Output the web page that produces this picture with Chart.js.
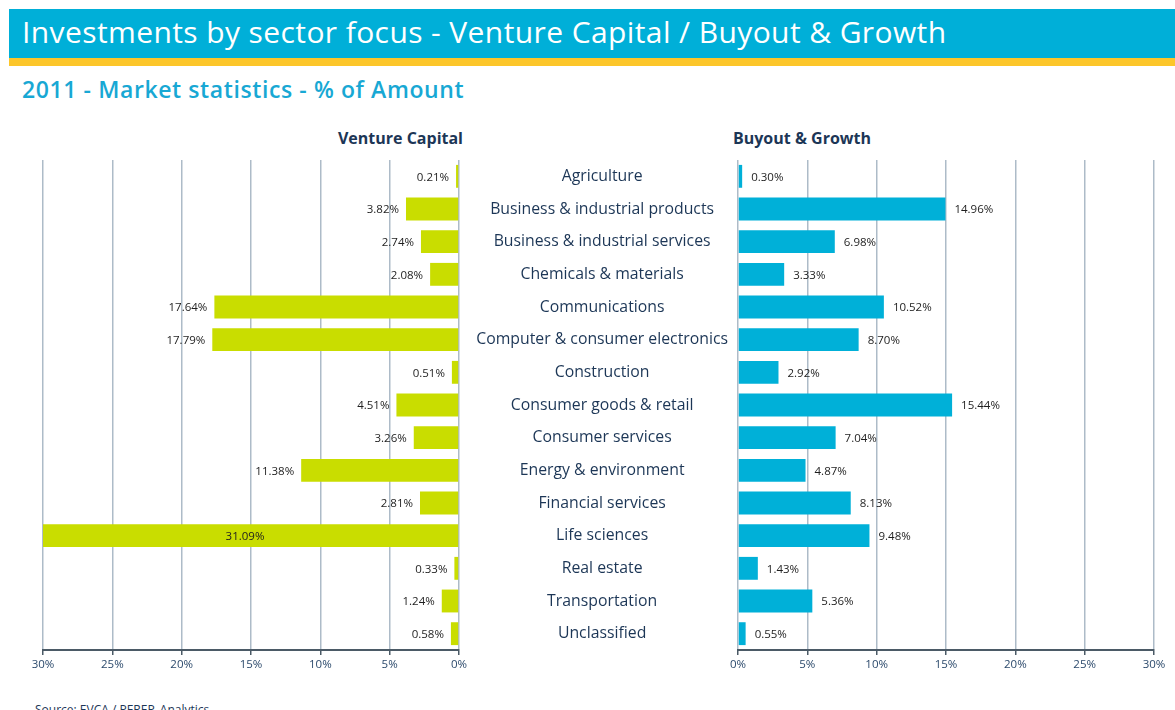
<!DOCTYPE html>
<html>
<head>
<meta charset="utf-8">
<script src="https://cdn.jsdelivr.net/npm/chart.js@4.4.1/dist/chart.umd.min.js"></script>
<style>
  body { margin: 0; background: #fff; width: 1175px; height: 710px; overflow: hidden; position: relative; font-family: "Open Sans", sans-serif; }
  .header { position: absolute; left: 9px; top: 9px; width: 1166px; height: 49px; background: #00afd8; }
  .header span { position: absolute; left: 13px; top: 3px; color: #fff; font-size: 30px; letter-spacing: 0.4px; line-height: 40px; }
  .stripe { position: absolute; left: 9px; top: 58px; width: 1166px; height: 8px; background: #fcc62a; }
  .subtitle { position: absolute; left: 22px; top: 73px; color: #18a8d4; font-size: 23px; font-weight: 600; letter-spacing: 0.6px; }
  .ptitle { position: absolute; top: 127px; color: #1c3656; font-size: 16px; font-weight: bold; }
  .source { position: absolute; left: 35px; top: 701px; color: #1c3656; font-size: 12px; }
  canvas { position: absolute; top: 150px; }
</style>
</head>
<body>
<div class="header"><span>Investments by sector focus - Venture Capital / Buyout &amp; Growth</span></div>
<div class="stripe"></div>
<div class="subtitle">2011 - Market statistics - % of Amount</div>
<div class="ptitle" style="right:712px">Venture Capital</div>
<div class="ptitle" style="left:733px">Buyout &amp; Growth</div>
<canvas id="vcChart" width="470" height="545" style="left:0"></canvas>
<canvas id="bgChart" width="705" height="545" style="left:470px"></canvas>
<div class="source">Source: EVCA / PEREP_Analytics</div>
<script>
var sectors = ['Agriculture', 'Business & industrial products', 'Business & industrial services',
  'Chemicals & materials', 'Communications', 'Computer & consumer electronics', 'Construction',
  'Consumer goods & retail', 'Consumer services', 'Energy & environment', 'Financial services',
  'Life sciences', 'Real estate', 'Transportation', 'Unclassified'];
var ventureCapital = [0.21, 3.82, 2.74, 2.08, 17.64, 17.79, 0.51, 4.51, 3.26, 11.38, 2.81, 31.09, 0.33, 1.24, 0.58];
var buyoutGrowth = [0.30, 14.96, 6.98, 3.33, 10.52, 8.70, 2.92, 15.44, 7.04, 4.87, 8.13, 9.48, 1.43, 5.36, 0.55];
var axisMax = 30;

var gridColor = '#adbbc8';
var axisColor = '#4b5a66';
var tickFont = { family: 'Open Sans', size: 11.5 };

// draws the value next to the end of each bar
var valueLabels = {
  id: 'valueLabels',
  afterDatasetsDraw: function(chart, args, opts) {
    var ctx = chart.ctx;
    var meta = chart.getDatasetMeta(0);
    var data = chart.data.datasets[0].data;
    var area = chart.chartArea;
    ctx.save();
    ctx.font = '11.5px "Open Sans"';
    ctx.fillStyle = '#1e1e1e';
    ctx.textBaseline = 'middle';
    meta.data.forEach(function(bar, i) {
      var text = data[i].toFixed(2) + '%';
      if (data[i] > axisMax) {
        ctx.textAlign = 'center';
        ctx.fillText(text, (area.left + area.right) / 2 - 6, bar.y + 1);
      } else if (opts.side === 'left') {
        ctx.textAlign = 'right';
        ctx.fillText(text, bar.x - 7, bar.y + 1);
      } else {
        ctx.textAlign = 'left';
        ctx.fillText(text, bar.x + 9, bar.y + 1);
      }
    });
    ctx.restore();
  }
};

function xScale(reverse) {
  return {
    min: 0,
    max: axisMax,
    reverse: reverse,
    grid: { color: gridColor, lineWidth: 1.5, tickColor: axisColor, tickLength: 5 },
    border: { color: axisColor, width: 2 },
    ticks: {
      stepSize: 5,
      padding: 3,
      color: '#2c4a6c',
      font: tickFont,
      maxRotation: 0,
      callback: function(v) { return v + '%'; }
    },
    afterFit: function(scale) { scale.height = 45; }
  };
}

var vcChart = new Chart(document.getElementById('vcChart'), {
  type: 'bar',
  data: {
    labels: sectors,
    datasets: [{
      data: ventureCapital,
      backgroundColor: '#c9dd00',
      barPercentage: 0.7,
      categoryPercentage: 1
    }]
  },
  options: {
    indexAxis: 'y',
    responsive: false,
    animation: false,
    layout: { padding: { left: 43, right: 10, top: 10, bottom: 0 } },
    scales: {
      x: xScale(true),
      y: { display: false }
    },
    plugins: {
      legend: { display: false },
      tooltip: { enabled: false },
      valueLabels: { side: 'left' }
    }
  },
  plugins: [valueLabels]
});

var bgChart = new Chart(document.getElementById('bgChart'), {
  type: 'bar',
  data: {
    labels: sectors,
    datasets: [{
      data: buyoutGrowth,
      backgroundColor: '#00b0d8',
      barPercentage: 0.7,
      categoryPercentage: 1
    }]
  },
  options: {
    indexAxis: 'y',
    responsive: false,
    animation: false,
    layout: { padding: { left: 0, right: 21, top: 10, bottom: 0 } },
    scales: {
      x: xScale(false),
      y: {
        grid: { display: false, drawTicks: false },
        border: { display: false },
        ticks: {
          crossAlign: 'center',
          padding: 10,
          color: '#1c3656',
          font: { family: 'Open Sans', size: 15.8 }
        },
        afterFit: function(scale) {
          scale.width = 268;
          scale.paddingTop = 0;
          scale.paddingBottom = 0;
        }
      }
    },
    plugins: {
      legend: { display: false },
      tooltip: { enabled: false },
      valueLabels: { side: 'right' }
    }
  },
  plugins: [valueLabels]
});
</script>
</body>
</html>
